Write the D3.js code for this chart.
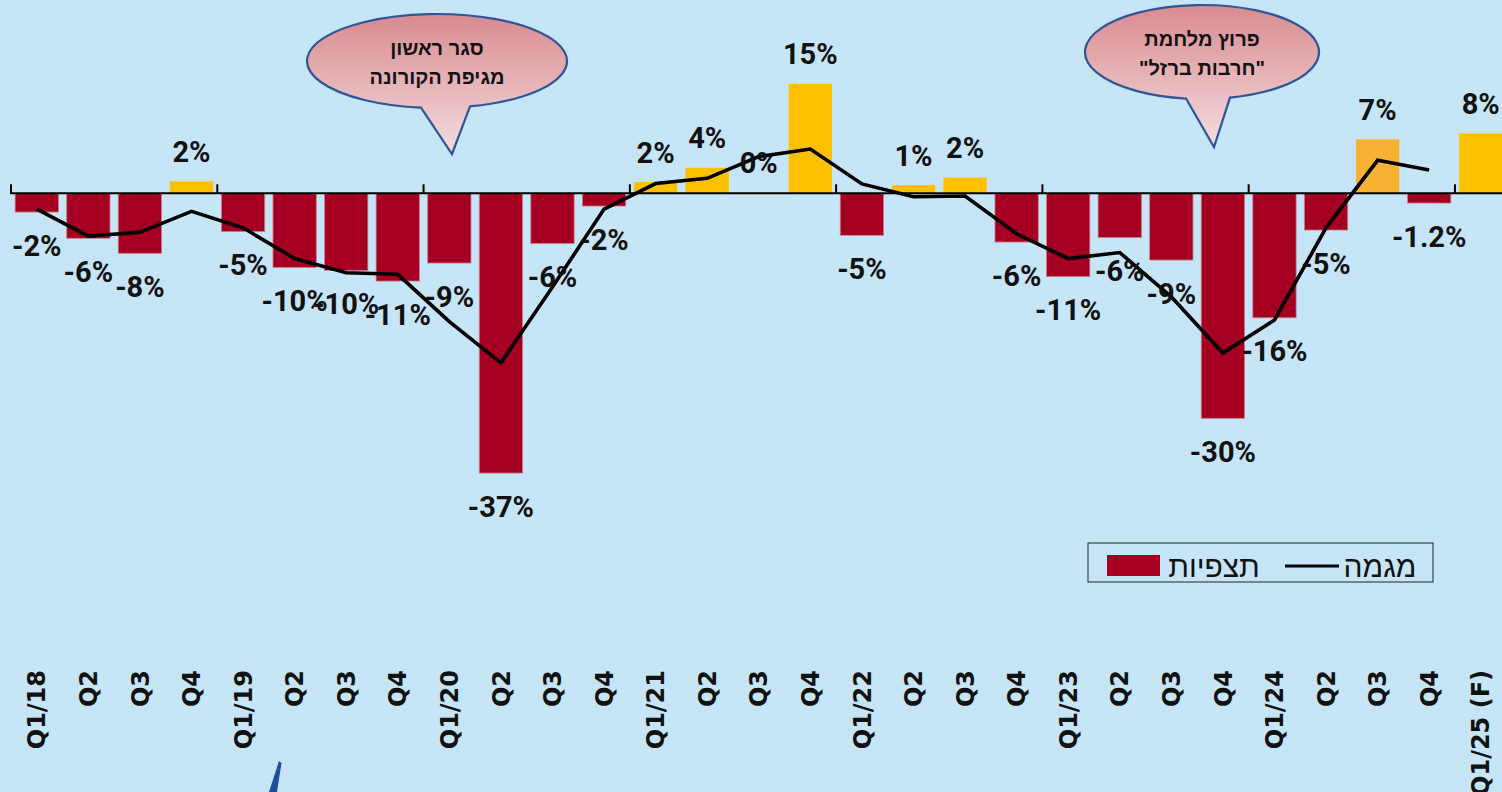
<!DOCTYPE html>
<html>
<head>
<meta charset="utf-8">
<script src="https://cdn.jsdelivr.net/npm/d3@7"></script>
<style>
  html, body { margin: 0; padding: 0; background: #c6e5f7; overflow: hidden; }
  svg { display: block; }
  .lbl { font-family: "Liberation Sans Narrow", "Roboto", sans-serif; font-weight: bold; font-size: 29px; fill: #111; }
  .tick text { font-family: "DejaVu Sans", sans-serif; font-weight: bold; font-size: 24px; fill: #111; }
  .heb { font-family: "Liberation Sans", "DejaVu Sans", sans-serif; fill: #111; }
</style>
</head>
<body>
<svg width="1502" height="792"></svg>
<script>
var quarters = ["Q1/18", "Q2", "Q3", "Q4", "Q1/19", "Q2", "Q3", "Q4", "Q1/20", "Q2", "Q3", "Q4",
  "Q1/21", "Q2", "Q3", "Q4", "Q1/22", "Q2", "Q3", "Q4", "Q1/23", "Q2", "Q3", "Q4",
  "Q1/24", "Q2", "Q3", "Q4", "Q1/25 (F)"];

// תצפיות - bars
var forecasts = [-2.5, -6.0, -8.0, 1.6, -5.1, -9.9, -10.3, -11.7, -9.3, -37.3, -6.7, -1.7,
  1.5, 3.4, 0.1, 14.6, -5.6, 1.1, 2.1, -6.5, -11.1, -5.9, -8.9, -30.0,
  -16.6, -4.9, 7.2, -1.3, 8.0];

var barLabels = ["-2%", "-6%", "-8%", "2%", "-5%", "-10%", "-10%", "-11%", "-9%", "-37%", "-6%", "-2%",
  "2%", "4%", "0%", "15%", "-5%", "1%", "2%", "-6%", "-11%", "-6%", "-9%", "-30%",
  "-16%", "-5%", "7%", "-1.2%", "8%"];

// מגמה - trend line
var trend = [-2.1, -5.7, -5.2, -2.4, -4.6, -8.7, -10.6, -10.8, -17.1, -22.6, -12.5, -2.1,
  1.3, 2.0, 4.9, 5.9, 1.25, -0.45, -0.37, -5.4, -8.7, -7.9, -13.8, -21.3,
  -16.9, -4.6, 4.4, 3.1, null];

var legendNames = ["מגמה", "תצפיות"];

var svg = d3.select("svg");

var x = d3.scaleBand()
    .domain(d3.range(quarters.length))
    .range([11, 11 + 51.57 * quarters.length])
    .paddingInner(0.16)
    .paddingOuter(0.08);

var y = d3.scaleLinear()
    .domain([-40, 20])
    .range([493.3, 43.3]);

var red = "#a50021", gold = "#ffc000", orange = "#f9b233";
var orangeIndex = 26;

// callout bubbles
var defs = svg.append("defs");
var grad = defs.append("linearGradient")
    .attr("id", "bubbleFill")
    .attr("x1", 0).attr("y1", 0).attr("x2", 0).attr("y2", 1);
grad.append("stop").attr("offset", "0%").attr("stop-color", "#d98b90");
grad.append("stop").attr("offset", "100%").attr("stop-color", "#f4dde0");

function bubble(cx, cy, rx, ry, bx1, bx2, tipX, tipY, lines) {
  function onEllipse(bx) {
    var t = (bx - cx) / rx;
    return cy + ry * Math.sqrt(1 - t * t);
  }
  var p = d3.path();
  p.moveTo(bx1, onEllipse(bx1));
  var d = p.toString() + "A" + rx + "," + ry + " 0 1 1 " + bx2 + "," + onEllipse(bx2) +
      "L" + tipX + "," + tipY + "Z";
  svg.append("path")
      .attr("d", d)
      .attr("fill", "url(#bubbleFill)")
      .attr("stroke", "#2f5597")
      .attr("stroke-width", 2.2);
  lines.forEach(function(t, i) {
    svg.append("text")
        .attr("class", "heb")
        .attr("x", cx)
        .attr("y", cy - 13 + i * 29)
        .attr("dy", "0.35em")
        .attr("text-anchor", "middle")
        .attr("direction", "rtl")
        .style("font-size", "20px")
        .style("font-weight", "bold")
        .text(t);
  });
}

bubble(437, 61, 130, 47, 421, 470, 452, 154, ["סגר ראשון", "מגיפת הקורונה"]);
bubble(1202, 52, 117, 47, 1186, 1230, 1214, 147, ["פרוץ מלחמת", "\"חרבות ברזל\""]);

// bars
svg.append("g").selectAll("rect")
    .data(forecasts)
  .enter().append("rect")
    .attr("x", function(d, i) { return x(i); })
    .attr("width", x.bandwidth())
    .attr("y", function(d) { return y(Math.max(0, d)); })
    .attr("height", function(d) { return Math.abs(y(d) - y(0)); })
    .attr("fill", function(d, i) { return i === orangeIndex ? orange : d < 0 ? red : gold; })
    .attr("stroke", function(d) { return d < 0 ? "#c7808f" : "none"; })
    .attr("stroke-width", 0.8);

// zero axis with year ticks
svg.append("line")
    .attr("x1", 10).attr("x2", 1502)
    .attr("y1", y(0)).attr("y2", y(0))
    .attr("stroke", "#000").attr("stroke-width", 2);

var yearStarts = d3.range(quarters.length).filter(function(i) { return quarters[i].indexOf("Q1/") === 0; });
svg.append("g").selectAll("line")
    .data(yearStarts)
  .enter().append("line")
    .attr("x1", function(i) { return x(i) - x.step() * 0.08; })
    .attr("x2", function(i) { return x(i) - x.step() * 0.08; })
    .attr("y1", y(0) - 9).attr("y2", y(0))
    .attr("stroke", "#000").attr("stroke-width", 2);

// trend line
var line = d3.line()
    .defined(function(d) { return d != null; })
    .x(function(d, i) { return x(i) + x.bandwidth() / 2; })
    .y(function(d) { return y(d); });

svg.append("path")
    .datum(trend)
    .attr("fill", "none")
    .attr("stroke", "#000")
    .attr("stroke-width", 3.6)
    .attr("stroke-linejoin", "miter")
    .attr("d", line);

// value labels
svg.append("g").selectAll("text")
    .data(forecasts)
  .enter().append("text")
    .attr("class", "lbl")
    .attr("x", function(d, i) { return x(i) + x.bandwidth() / 2; })
    .attr("y", function(d) { return d < 0 ? y(d) + 33.5 : y(d) - 29.5; })
    .attr("dy", "0.35em")
    .attr("text-anchor", "middle")
    .text(function(d, i) { return barLabels[i]; });

// quarter axis
var xAxis = svg.append("g")
    .attr("transform", "translate(0,670)")
    .call(d3.axisBottom(x).tickSize(0).tickFormat(function(i) { return quarters[i]; }));
xAxis.select(".domain").remove();
xAxis.selectAll("text")
    .attr("transform", "rotate(-90)")
    .attr("x", 0)
    .attr("y", 0)
    .attr("dy", "0.36em")
    .attr("text-anchor", "end")
    .attr("font-size", null)
    .attr("font-family", null);

// legend
var legend = svg.append("g");
legend.append("rect")
    .attr("x", 1088).attr("y", 543).attr("width", 345).attr("height", 39)
    .attr("fill", "none").attr("stroke", "#222").attr("stroke-width", 1);
legend.append("rect")
    .attr("x", 1107).attr("y", 555).attr("width", 53).attr("height", 21)
    .attr("fill", red);
legend.append("line")
    .attr("x1", 1285).attr("x2", 1339).attr("y1", 566).attr("y2", 566)
    .attr("stroke", "#000").attr("stroke-width", 3);
legend.selectAll("text.heb")
    .data(legendNames)
  .enter().append("text")
    .attr("class", "heb")
    .attr("x", function(d, i) { return i === 0 ? 1380 : 1214; })
    .attr("y", 566)
    .attr("dy", "0.35em")
    .attr("text-anchor", "middle")
    .attr("direction", "rtl")
    .style("font-size", "30px")
    .text(function(d) { return d; });

// small logo fragment at the bottom edge
svg.append("path")
    .attr("d", "M279,761 L281.5,763 L277,792 L269,792 Z")
    .attr("fill", "#1f4e9a");
</script>
</body>
</html>
